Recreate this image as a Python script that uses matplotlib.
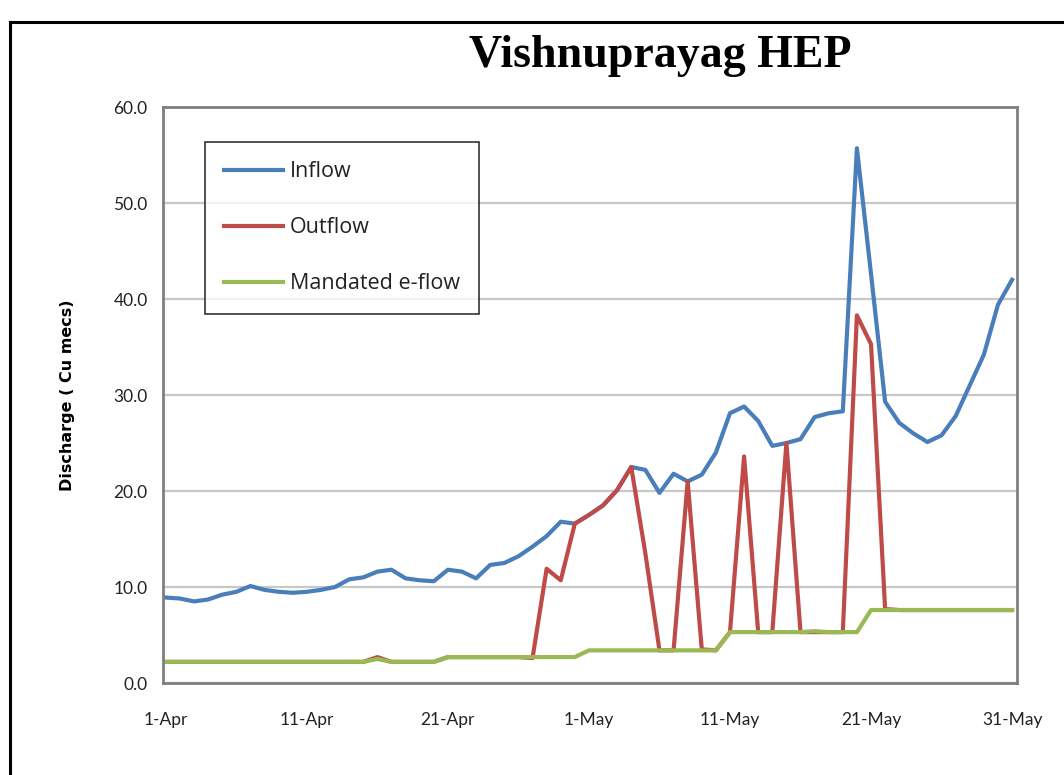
import matplotlib
matplotlib.use("Agg")
import matplotlib.pyplot as plt
from matplotlib.lines import Line2D
import numpy as np

# Days from 1-Apr (0) to 31-May (60)
days = list(range(61))
tick_days = [0, 10, 20, 30, 40, 50, 60]
tick_labels = ['1-Apr', '11-Apr', '21-Apr', '1-May', '11-May', '21-May', '31-May']
y_ticks = [0, 10, 20, 30, 40, 50, 60]

inflow = [8.9, 8.8, 8.5, 8.7, 9.2, 9.5, 10.1, 9.7, 9.5, 9.4,
          9.5, 9.7, 10.0, 10.8, 11.0, 11.6, 11.8, 10.9, 10.7, 10.6,
          11.8, 11.6, 10.9, 12.3, 12.5, 13.2, 14.2, 15.3, 16.8, 16.6,
          17.5, 18.5, 20.1, 22.5, 22.2, 19.8, 21.8, 21.0, 21.7, 24.0,
          28.1, 28.8, 27.3, 24.7, 25.0, 25.4, 27.7, 28.1, 28.3, 55.7,
          42.6, 29.3, 27.1, 26.0, 25.1, 25.8, 27.8, 31.0, 34.2, 39.4,
          42.0]

eflow = [2.2, 2.2, 2.2, 2.2, 2.2, 2.2, 2.2, 2.2, 2.2, 2.2,
         2.2, 2.2, 2.2, 2.2, 2.2, 2.5, 2.2, 2.2, 2.2, 2.2,
         2.7, 2.7, 2.7, 2.7, 2.7, 2.7, 2.7, 2.7, 2.7, 2.7,
         3.4, 3.4, 3.4, 3.4, 3.4, 3.4, 3.4, 3.4, 3.4, 3.4,
         5.3, 5.3, 5.3, 5.3, 5.3, 5.3, 5.4, 5.3, 5.3, 5.3,
         7.6, 7.6, 7.6, 7.6, 7.6, 7.6, 7.6, 7.6, 7.6, 7.6,
         7.6]

outflow = [2.2, 2.2, 2.2, 2.2, 2.2, 2.2, 2.2, 2.2, 2.2, 2.2,
           2.2, 2.2, 2.2, 2.2, 2.2, 2.7, 2.2, 2.2, 2.2, 2.2,
           2.7, 2.7, 2.7, 2.7, 2.7, 2.7, 2.6, 11.9, 10.7, 16.6,
           17.5, 18.5, 20.1, 22.5, 13.5, 3.4, 3.4, 21.0, 3.5, 3.4,
           5.3, 23.6, 5.3, 5.3, 25.0, 5.3, 5.3, 5.3, 5.3, 38.3,
           35.3, 7.7, 7.6, 7.6, 7.6, 7.6, 7.6, 7.6, 7.6, 7.6,
           7.6]

W, H = 1064, 775
fig = plt.figure(figsize=(W / 100, H / 100), dpi=100)
fig.patch.set_facecolor('white')

# outer chart border (cropped at right and bottom)
fig.add_artist(Line2D([10 / W, 10 / W], [0, 1 - 22 / H], transform=fig.transFigure,
                      color='black', lw=2.2))
fig.add_artist(Line2D([10 / W, 1.0], [1 - 22 / H, 1 - 22 / H], transform=fig.transFigure,
                      color='black', lw=2.2))

left, right, top, bottom = 163, 1017, 107, 683
ax = fig.add_axes([left / W, 1 - bottom / H, (right - left) / W, (bottom - top) / H])

ax.plot(days, inflow, color='#4A7EBB', lw=3.0, label='Inflow', solid_joinstyle='round')
ax.plot(days, outflow, color='#BE4B48', lw=3.0, label='Outflow', solid_joinstyle='round')
ax.plot(days, eflow, color='#98B954', lw=3.0, label='Mandated e-flow', solid_joinstyle='round')

ax.set_xlim(-0.2, 60.35)
ax.set_ylim(0, 60)
ax.set_yticks(y_ticks)
ax.set_yticklabels([f'{v:.1f}' for v in y_ticks])
ax.set_xticks(tick_days)
ax.set_xticklabels(tick_labels)
ax.tick_params(axis='both', length=0, labelsize=12.5, colors='#222222')
ax.tick_params(axis='y', pad=11)
ax.tick_params(axis='x', pad=21)
for lab in ax.get_xticklabels() + ax.get_yticklabels():
    lab.set_family('Lato')

ax.grid(axis='y', color='#C8C8C8', lw=1.6)
ax.set_axisbelow(True)
for s in ax.spines.values():
    s.set_color('#7F7F7F')
    s.set_linewidth(2)

ax.set_ylabel('Discharge ( Cu mecs)', fontsize=11.5, fontweight='bold', family='DejaVu Sans')
ax.yaxis.set_label_coords(-0.103, 0.5)

leg = ax.legend(loc='upper left', bbox_to_anchor=((205 - left) / (right - left), 1 - (142 - top) / (bottom - top)),
                frameon=True, fancybox=False, labelspacing=1.62,
                handlelength=2.7, handletextpad=0.35, borderpad=0.9, borderaxespad=0,
                prop={'family': 'Open Sans', 'size': 15.5})
leg.get_frame().set_edgecolor('black')
leg.get_frame().set_linewidth(1.2)
for t in leg.get_texts():
    t.set_color('#222222')

fig.text(660 / W, 1 - 56 / H, 'Vishnuprayag HEP', ha='center', va='center',
         fontsize=33, fontweight='bold', family='Liberation Serif')

fig.savefig('out.png', dpi=100)
